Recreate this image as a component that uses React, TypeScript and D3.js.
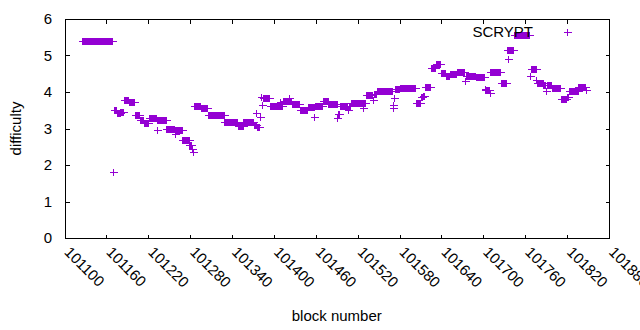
import React from 'react';
import * as d3 from 'd3';

const W = 640;
const H = 330;
const PLOT = { left: 64.5, right: 609, top: 19, bottom: 238 };
const COLOR = '#9400d3';
const FONT = '"Liberation Sans", Arial, sans-serif';

// [first block, last block, difficulty]; one "+" per block
const difficultyRuns: [number, number, number][] = [
  [101125, 101168, 5.4],
  [101169, 101170, 1.82],
  [101171, 101174, 3.5],
  [101175, 101179, 3.43],
  [101180, 101184, 3.46],
  [101185, 101191, 3.77],
  [101192, 101200, 3.72],
  [101201, 101207, 3.38],
  [101208, 101213, 3.22],
  [101214, 101220, 3.14],
  [101221, 101231, 3.28],
  [101232, 101232, 2.96],
  [101233, 101245, 3.22],
  [101246, 101257, 3.0],
  [101258, 101258, 2.85],
  [101259, 101268, 2.95],
  [101269, 101278, 2.68],
  [101279, 101281, 2.55],
  [101282, 101283, 2.45],
  [101284, 101284, 2.36],
  [101285, 101294, 3.63],
  [101295, 101304, 3.57],
  [101305, 101328, 3.37],
  [101329, 101347, 3.19],
  [101348, 101355, 3.08],
  [101356, 101370, 3.17],
  [101371, 101374, 3.1],
  [101375, 101375, 3.42],
  [101376, 101379, 3.05],
  [101380, 101380, 3.32],
  [101381, 101382, 3.87],
  [101383, 101383, 3.64],
  [101384, 101393, 3.83],
  [101394, 101407, 3.63],
  [101408, 101408, 3.73],
  [101409, 101412, 3.63],
  [101413, 101421, 3.75],
  [101422, 101422, 3.83],
  [101423, 101425, 3.75],
  [101426, 101436, 3.66],
  [101437, 101448, 3.5],
  [101449, 101457, 3.6],
  [101458, 101458, 3.31],
  [101459, 101469, 3.63],
  [101470, 101477, 3.74],
  [101478, 101490, 3.67],
  [101491, 101491, 3.28],
  [101492, 101493, 3.39],
  [101494, 101505, 3.62],
  [101506, 101506, 3.51],
  [101507, 101509, 3.62],
  [101510, 101526, 3.7],
  [101527, 101527, 3.55],
  [101528, 101531, 3.7],
  [101532, 101541, 3.93],
  [101542, 101542, 3.78],
  [101543, 101546, 3.95],
  [101547, 101569, 4.04],
  [101570, 101570, 3.55],
  [101571, 101571, 3.64],
  [101572, 101572, 3.84],
  [101573, 101579, 4.07],
  [101580, 101602, 4.12],
  [101603, 101609, 3.7],
  [101610, 101612, 3.86],
  [101613, 101615, 3.9],
  [101616, 101624, 4.15],
  [101625, 101631, 4.65],
  [101632, 101638, 4.78],
  [101639, 101645, 4.51],
  [101646, 101651, 4.44],
  [101652, 101661, 4.5],
  [101662, 101673, 4.56],
  [101674, 101674, 4.3],
  [101675, 101688, 4.45],
  [101689, 101701, 4.42],
  [101702, 101702, 4.08],
  [101703, 101708, 4.05],
  [101709, 101709, 3.98],
  [101710, 101724, 4.56],
  [101725, 101733, 4.24],
  [101734, 101735, 5.16],
  [101736, 101736, 4.9],
  [101737, 101743, 5.16],
  [101744, 101766, 5.56],
  [101767, 101767, 4.44],
  [101768, 101775, 4.63],
  [101776, 101776, 4.33],
  [101777, 101785, 4.24],
  [101786, 101789, 4.18],
  [101790, 101790, 4.04],
  [101791, 101797, 4.18],
  [101798, 101810, 4.12],
  [101811, 101819, 3.8],
  [101820, 101821, 3.87],
  [101822, 101835, 4.04],
  [101836, 101846, 4.15],
  [101847, 101847, 4.06],
];

const xTicks = [101100, 101160, 101220, 101280, 101340, 101400, 101460, 101520, 101580, 101640, 101700, 101760, 101820, 101880];
const yTicks = [0, 1, 2, 3, 4, 5, 6];
const seriesName = 'SCRYPT';

// gnuplot-ish "+" glyph
function plus(cx: number, cy: number) {
  const px = Math.round(cx) + 0.5;
  const py = Math.round(cy) + 0.5;
  return `M${px - 4},${py}h8M${px},${py - 3.5}v7`;
}

export default function App() {
  const x = d3.scaleLinear().domain([101100, 101880]).range([PLOT.left, PLOT.right]);
  const y = d3.scaleLinear().domain([0, 6]).range([PLOT.bottom, PLOT.top]);

  const points = difficultyRuns.flatMap(([s, e, v]) =>
    d3.range(s, e + 1).map(b => [b, v] as [number, number])
  );
  const dataPath = points.map(([b, v]) => plus(x(b), y(v))).join('');

  const TICK = 4;
  const L = Math.round(PLOT.left) + 0.5;
  const R = Math.round(PLOT.right) + 0.5;
  const T = Math.round(PLOT.top) + 0.5;
  const B = Math.round(PLOT.bottom) + 0.5;

  return (
    <div style={{ position: 'fixed', left: 0, top: 0 }}>
      <svg width={W} height={H} style={{ display: 'block', background: '#fff' }} fontFamily={FONT}>
        <rect x={0} y={0} width={W} height={H} fill="#fff" />
        {/* tick marks, mirrored on all sides */}
        <g stroke="#000" strokeWidth={1} shapeRendering="crispEdges">
          {xTicks.map(t => {
            const xx = Math.round(x(t)) + 0.5;
            return (
              <g key={t}>
                <line x1={xx} x2={xx} y1={B} y2={B - TICK} />
                <line x1={xx} x2={xx} y1={T} y2={T + TICK} />
              </g>
            );
          })}
          {yTicks.map(t => {
            const yy = Math.round(y(t)) + 0.5;
            return (
              <g key={t}>
                <line x1={L} x2={L + TICK} y1={yy} y2={yy} />
                <line x1={R} x2={R - TICK} y1={yy} y2={yy} />
              </g>
            );
          })}
        </g>

        {/* data */}
        <path d={dataPath} stroke={COLOR} strokeWidth={1} fill="none" shapeRendering="crispEdges" />

        <rect x={L} y={T} width={R - L} height={B - T} fill="none" stroke="#000" strokeWidth={1} shapeRendering="crispEdges" />

        {/* y tick labels */}
        {yTicks.map(t => (
          <text key={t} x={52} y={y(t)} dy="0.35em" textAnchor="end" fontSize={15} fill="#000">
            {t}
          </text>
        ))}

        {/* x tick labels rotated -45 (gnuplot style) */}
        {xTicks.map(t => (
          <text key={t} transform={`translate(${x(t) - 1},253) rotate(45)`} fontSize={15} fill="#000">
            {t}
          </text>
        ))}

        <text x={(PLOT.left + PLOT.right) / 2} y={321} textAnchor="middle" fontSize={15} fill="#000">
          block number
        </text>
        <text transform={`translate(21,${(PLOT.top + PLOT.bottom) / 2}) rotate(-90)`} textAnchor="middle" fontSize={15} fill="#000">
          difficulty
        </text>

        {/* key */}
        <text x={533} y={37} textAnchor="end" fontSize={15} fill="#000">{seriesName}</text>
        <path d={plus(567, 32)} stroke={COLOR} strokeWidth={1} fill="none" shapeRendering="crispEdges" />
      </svg>
    </div>
  );
}
